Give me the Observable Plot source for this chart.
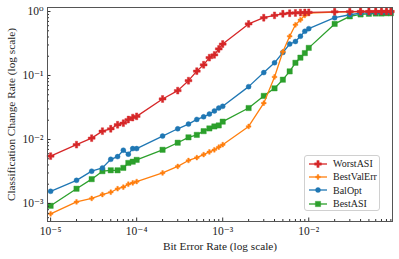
<!DOCTYPE html>
<html>
<head>
<meta charset="utf-8">
<script src="https://cdn.jsdelivr.net/npm/d3@7"></script>
<script src="https://cdn.jsdelivr.net/npm/@observablehq/plot@0.6"></script>
<style>
  body { margin: 0; background: #fff; }
  #wrap { position: relative; width: 399px; height: 259px; font-family: "Liberation Serif", "DejaVu Serif", serif; }
  #legend { position: absolute; left: 304px; top: 155px; width: 76px; height: 56px; border: 1px solid #d0d0d0; border-radius: 3px; background: rgba(255,255,255,0.85); box-sizing: border-box; padding-top: 1px; }
  .item { height: 13.3px; display: flex; align-items: center; font-size: 10px; color: #222; white-space: nowrap; }
  .item svg { margin-left: 3px; margin-right: 5px; }
</style>
</head>
<body>
<div id="wrap"><div id="chart"></div><div id="legend"></div></div>
<script>
// Bit error rates (x)
const ber = [1e-5, 2e-5, 3e-5, 4e-5, 5e-5, 6e-5, 7e-5, 8e-5, 9e-5,
             1e-4, 2e-4, 3e-4, 4e-4, 5e-4, 6e-4, 7e-4, 8e-4, 9e-4,
             1e-3, 2e-3, 3e-3, 4e-3, 5e-3, 6e-3, 7e-3, 8e-3, 9e-3,
             1e-2, 2e-2, 3e-2, 4e-2, 5e-2, 6e-2, 7e-2, 8e-2, 9e-2];

const worstASI = [0.0055, 0.0083, 0.0105, 0.0135, 0.0147, 0.017, 0.018, 0.0205, 0.022,
                  0.023, 0.043, 0.058, 0.083, 0.117, 0.147, 0.19, 0.21, 0.26,
                  0.31, 0.64, 0.80, 0.87, 0.92, 0.94, 0.95, 0.96, 0.965,
                  0.97, 0.99, 0.995, 1.0, 1.0, 1.0, 1.0, 1.0, 1.0];
const bestValErr = [0.00069, 0.00106, 0.0012, 0.00138, 0.0015, 0.0017, 0.0018, 0.002, 0.0021,
                    0.0022, 0.003, 0.0038, 0.0047, 0.0052, 0.0058, 0.0064, 0.0069, 0.0076,
                    0.0083, 0.016, 0.037, 0.095, 0.235, 0.41, 0.62, 0.74, 0.87,
                    0.94, 0.98, 0.99, 0.995, 1.0, 1.0, 1.0, 1.0, 1.0];
const balOpt = [0.00155, 0.0023, 0.0032, 0.0036, 0.0049, 0.0054, 0.0068, 0.0059, 0.0072,
                0.0072, 0.0113, 0.0147, 0.0174, 0.0206, 0.0226, 0.025, 0.028, 0.031,
                0.033, 0.067, 0.111, 0.158, 0.229, 0.31, 0.34, 0.41, 0.49,
                0.54, 0.80, 0.89, 0.94, 0.95, 0.96, 0.965, 0.97, 0.97];
const bestASI = [0.00092, 0.0017, 0.0024, 0.0032, 0.0033, 0.0033, 0.0036, 0.0043, 0.0045,
                 0.0048, 0.0069, 0.0089, 0.0108, 0.0118, 0.0135, 0.0149, 0.016, 0.0166,
                 0.019, 0.031, 0.048, 0.063, 0.086, 0.116, 0.158, 0.19, 0.224,
                 0.27, 0.64, 0.84, 0.90, 0.92, 0.93, 0.93, 0.94, 0.94];

const seriesNames = ["WorstASI", "BestValErr", "BalOpt", "BestASI"];
const seriesValues = [worstASI, bestValErr, balOpt, bestASI];
const seriesColors = ["#d62728", "#ff7f0e", "#1f77b4", "#2ca02c"];
const seriesSymbols = ["cross", "cross", "circle", "square"];
const seriesR = [2.9, 2.0, 2.5, 3.0];

const xMajor = [1e-5, 1e-4, 1e-3, 1e-2];
const xMinor = [2e-5,3e-5,4e-5,5e-5,6e-5,7e-5,8e-5,9e-5, 2e-4,3e-4,4e-4,5e-4,6e-4,7e-4,8e-4,9e-4,
                2e-3,3e-3,4e-3,5e-3,6e-3,7e-3,8e-3,9e-3, 2e-2,3e-2,4e-2,5e-2,6e-2,7e-2,8e-2,9e-2];
const yMajor = [1e-3, 1e-2, 1e-1, 1];
const yMinor = [6e-4,7e-4,8e-4,9e-4, 2e-3,3e-3,4e-3,5e-3,6e-3,7e-3,8e-3,9e-3,
                2e-2,3e-2,4e-2,5e-2,6e-2,7e-2,8e-2,9e-2, 2e-1,3e-1,4e-1,5e-1,6e-1,7e-1,8e-1,9e-1];
const xLabel = "Bit Error Rate (log scale)";
const yLabel = "Classification Change Rate (log scale)";

const supMap = {"-": "\u207B", "0": "\u2070", "1": "\u00B9", "2": "\u00B2", "3": "\u00B3", "4": "\u2074", "5": "\u2075", "6": "\u2076", "7": "\u2077", "8": "\u2078", "9": "\u2079"};
const fmt = d => "10" + String(Math.round(Math.log10(d))).split("").map(c => supMap[c]).join("");

const rows = seriesNames.flatMap((name, k) => ber.map((x, i) => ({x, y: seriesValues[k][i], name, k})));
const blank = () => "";

const seriesMarks = [3, 2, 1, 0].flatMap(k => {
  const data = rows.filter(d => d.k === k);
  return [
    Plot.line(data, {x: "x", y: "y", stroke: seriesColors[k], strokeWidth: 1.3}),
    Plot.dot(data, {x: "x", y: "y", fill: seriesColors[k], stroke: seriesColors[k], strokeWidth: 0.4, symbol: seriesSymbols[k], r: seriesR[k]})
  ];
});

const chart = Plot.plot({
  width: 399, height: 259,
  marginLeft: 47, marginRight: 7, marginTop: 7, marginBottom: 38,
  style: {fontFamily: "'Liberation Serif', 'DejaVu Serif', serif", fontSize: "10px", color: "#222", background: "#fff"},
  x: {type: "log", domain: [0.92e-5, 0.094]},
  y: {type: "log", domain: [5.23e-4, 1.155]},
  marks: [
    ...seriesMarks,
    Plot.axisX({ticks: xMajor, tickSize: -3.5, tickFormat: blank, label: null, stroke: "#333"}),
    Plot.axisX({ticks: xMinor, tickSize: -2, tickFormat: blank, label: null, stroke: "#333"}),
    Plot.axisX({ticks: xMajor, tickSize: 0, tickPadding: 5, tickFormat: fmt, label: null, fontSize: 11.5}),
    Plot.axisY({ticks: yMajor, tickSize: -3.5, tickFormat: blank, label: null, stroke: "#333"}),
    Plot.axisY({ticks: yMinor, tickSize: -2, tickFormat: blank, label: null, stroke: "#333"}),
    Plot.axisY({ticks: yMajor, tickSize: 0, tickPadding: 4, tickFormat: fmt, label: null, fontSize: 11.5}),
    Plot.frame({stroke: "#555", strokeWidth: 1}),
    Plot.text([xLabel], {text: d => d, frameAnchor: "bottom", dy: 28, fontSize: 11.3, fill: "#222"}),
    Plot.text([yLabel], {text: d => d, frameAnchor: "left", textAnchor: "middle", lineAnchor: "middle", dx: -36, rotate: -90, fontSize: 11.3, fill: "#222"})
  ]
});
document.getElementById("chart").appendChild(chart);

// Legend
const legend = document.getElementById("legend");
seriesNames.forEach((name, k) => {
  const item = document.createElement("div");
  item.className = "item";
  const sym = d3.symbol(k === 2 ? d3.symbolCircle : k === 3 ? d3.symbolSquare : d3.symbolCross, Math.PI * seriesR[k] * seriesR[k]);
  item.innerHTML = `<svg width="20" height="10"><line x1="1" x2="19" y1="5" y2="5" stroke="${seriesColors[k]}" stroke-width="1.3"/><path transform="translate(10,5)" d="${sym()}" fill="${seriesColors[k]}" stroke="${seriesColors[k]}" stroke-width="0.4"/></svg><span>${name}</span>`;
  legend.appendChild(item);
});
</script>
</body>
</html>
